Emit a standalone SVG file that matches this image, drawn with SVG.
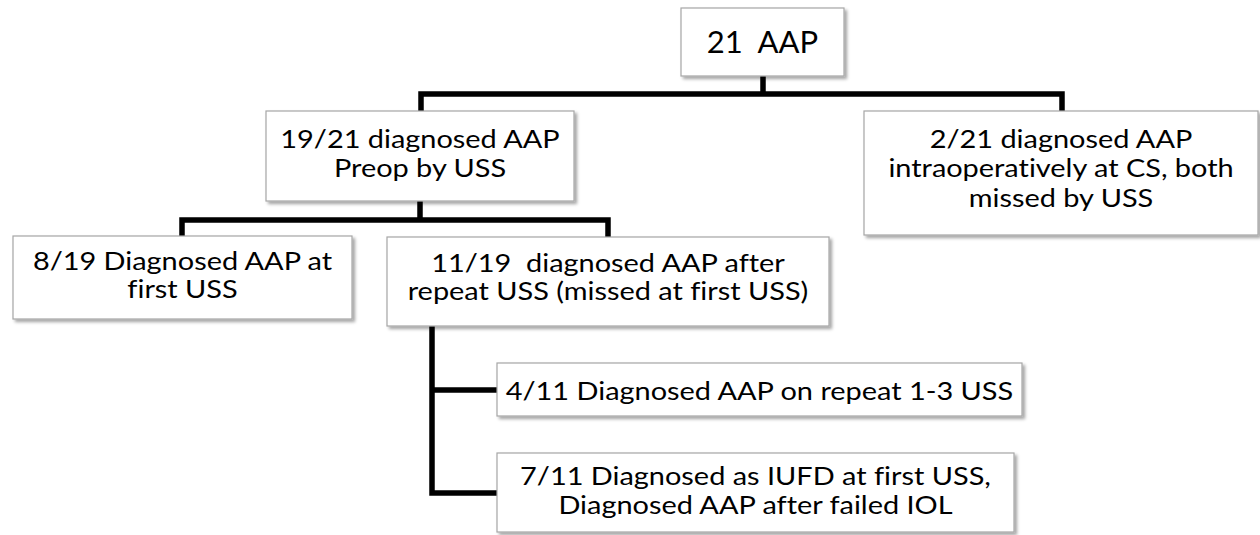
<svg xmlns="http://www.w3.org/2000/svg" width="1260" height="535" viewBox="0 0 1260 535">
<defs>
<filter id="sh" x="-5%" y="-10%" width="115%" height="130%">
<feDropShadow dx="2.5" dy="2.5" stdDeviation="1.5" flood-color="#000" flood-opacity="0.35"/>
</filter>
</defs>
<style>
.box{fill:#fff;stroke:#a6a6a6;stroke-width:1.2;filter:url(#sh)}
.t{font-family:Lato,"Open Sans","Liberation Sans",sans-serif;font-size:24.5px;fill:#000;text-anchor:middle;white-space:pre;font-variant-ligatures:none}
.big{font-size:31px}
.c{fill:none;stroke:#000;stroke-width:5.5;stroke-linejoin:miter;stroke-linecap:butt}
</style>
<rect width="1260" height="535" fill="#fff"/>
<g id="connectors">
<path class="c" d="M763,76 V94 M421,111 V94 H1062 V111"/>
<path class="c" d="M420,201 V220 M182,236 V220 H608 V237"/>
<path class="c" d="M432,326 V493 H497 M432,390 H497"/>
</g>
<g id="n-root">
<rect class="box" x="681" y="8" width="163" height="68"/>
<text class="t big" x="762.5" y="53" xml:space="preserve">21  AAP</text>
</g>
<g id="n-preop">
<rect class="box" x="266" y="111" width="308" height="90"/>
<g transform="translate(420,0) scale(1.18,1)">
<text class="t" x="0" y="148.5">19/21 diagnosed AAP</text>
<text class="t" x="0" y="177">Preop by USS</text>
</g>
</g>
<g id="n-intraop">
<rect class="box" x="864" y="111" width="394" height="124"/>
<g transform="translate(1061,0) scale(1.18,1)">
<text class="t" x="0" y="148">2/21 diagnosed AAP</text>
<text class="t" x="0" y="177.5">intraoperatively at CS, both</text>
<text class="t" x="0" y="207">missed by USS</text>
</g>
</g>
<g id="n-first">
<rect class="box" x="13" y="236" width="339" height="83"/>
<g transform="translate(182.5,0) scale(1.18,1)">
<text class="t" x="0" y="270">8/19 Diagnosed AAP at</text>
<text class="t" x="0" y="298.5">first USS</text>
</g>
</g>
<g id="n-repeat">
<rect class="box" x="387" y="237" width="442" height="89"/>
<g transform="translate(608,0) scale(1.18,1)">
<text class="t" x="0" y="272" xml:space="preserve">11/19  diagnosed AAP after</text>
<text class="t" x="0" y="300.5">repeat USS (missed at first USS)</text>
</g>
</g>
<g id="n-repeat13">
<rect class="box" x="497" y="363" width="525" height="53"/>
<g transform="translate(759.5,0) scale(1.18,1)">
<text class="t" x="0" y="400">4/11 Diagnosed AAP on repeat 1-3 USS</text>
</g>
</g>
<g id="n-iufd">
<rect class="box" x="497" y="453" width="517" height="79"/>
<g transform="translate(755.5,0) scale(1.18,1)">
<text class="t" x="0" y="485">7/11 Diagnosed as IUFD at first USS,</text>
<text class="t" x="0" y="514">Diagnosed AAP after failed IOL</text>
</g>
</g>
</svg>
